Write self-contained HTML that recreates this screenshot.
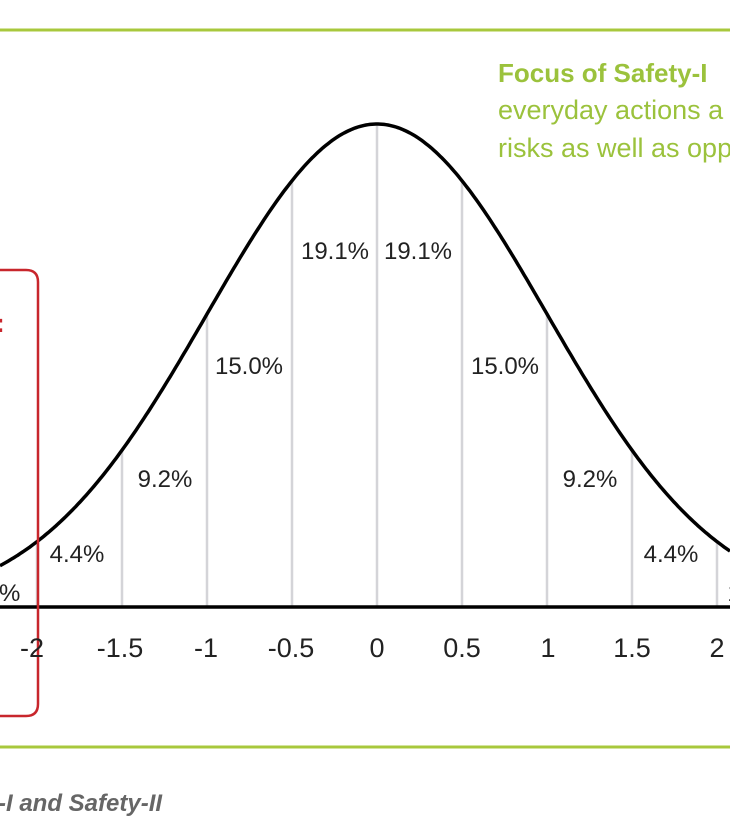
<!DOCTYPE html>
<html><head><meta charset="utf-8"><style>
html,body{margin:0;padding:0;background:#fff;width:730px;height:836px;overflow:hidden}
svg{display:block}
</style></head><body>
<svg id="s" width="730" height="836" viewBox="0 0 730 836" xmlns="http://www.w3.org/2000/svg" font-family="Liberation Sans, sans-serif">
<rect width="730" height="836" fill="#fff"/>
<line x1="0" y1="30" x2="730" y2="30" stroke="#a8c83c" stroke-width="3"/>
<line x1="0" y1="747" x2="730" y2="747" stroke="#a8c83c" stroke-width="3"/>
<g id="grid" stroke="#d4d4d8" stroke-width="2.5"></g>
<path id="curve" fill="none" stroke="#000" stroke-width="3.5"/>
<line x1="0" y1="607" x2="730" y2="607" stroke="#000" stroke-width="3.5"/>
<path d="M0 270 H26 Q38 270 38 282 V704 Q38 716 26 716 H0" fill="none" stroke="#c8262c" stroke-width="2.5"/>
<text x="-4" y="332" fill="#c8262c" font-size="26" font-weight="bold">:</text>
<g font-size="24" fill="#222" text-anchor="middle">
<text x="335" y="259">19.1%</text><text x="418" y="259">19.1%</text>
<text x="249" y="374">15.0%</text><text x="505" y="374">15.0%</text>
<text x="165" y="487">9.2%</text><text x="590" y="487">9.2%</text>
<text x="77" y="562">4.4%</text><text x="671" y="562">4.4%</text>
<text x="3" y="601">7%</text><text x="734" y="601">1</text>
</g>
<g font-size="27" fill="#222" text-anchor="middle">
<text x="32" y="657">-2</text><text x="120" y="657">-1.5</text><text x="206" y="657">-1</text>
<text x="291" y="657">-0.5</text><text x="377" y="657">0</text><text x="462" y="657">0.5</text>
<text x="548" y="657">1</text><text x="632" y="657">1.5</text><text x="717" y="657">2</text>
</g>
<text x="498" y="82" fill="#9bc23c" font-size="26" font-weight="bold">Focus of Safety-I</text>
<text x="498" y="119" fill="#9bc23c" font-size="27">everyday actions a</text>
<text x="498" y="157" fill="#9bc23c" font-size="27">risks as well as opp</text>
<text x="-2" y="811" fill="#666" font-size="24" font-weight="bold" font-style="italic">-I and Safety-II</text>
</svg>
<script>
var x0=377,u=170,base=607,A=483;
function y(t){return base-A*Math.exp(-t*t/2);}
var d="";for(var px=0;px<=730;px+=2){var t=(px-x0)/u;d+=(px?"L":"M")+px+" "+y(t).toFixed(1);}
document.getElementById("curve").setAttribute("d",d);
var g=document.getElementById("grid"),ns="http://www.w3.org/2000/svg";
[-2,-1.5,-1,-0.5,0,0.5,1,1.5,2].forEach(function(t){var l=document.createElementNS(ns,"line");var X=x0+t*u;
l.setAttribute("x1",X);l.setAttribute("x2",X);l.setAttribute("y1",y(t));l.setAttribute("y2",base);g.appendChild(l);});
</script>
</body></html>
